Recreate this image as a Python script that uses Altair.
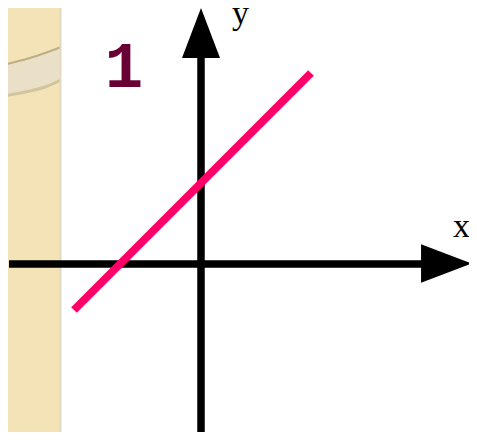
import altair as alt
import pandas as pd

# math coordinates: origin where the two axes cross, y upward, 1 unit ~ 1 px
X_DOMAIN = [-193, 268]
Y_DOMAIN = [-168, 256]

# axes
x_axis_start, x_axis_end = -192, 240
y_axis_start, y_axis_end = -168, 220

# arrow heads (centre positions)
arrow_x = [245.4, 0]
arrow_y = [0.5, 231]

# the straight line y = x + 81
line_x = [-127, 110]
line_y = [-46, 191]

# decorative strip on the left
strip_x = [-209, -141]
ribbon_x = [-209, -186, -171, -156, -140]
ribbon_top = [196, 202, 206, 211, 217]
ribbon_bottom = [166, 170, 173, 177, 184]

# labels
label_text = ["1", "y", "x"]
label_x = [-77, 31, 252]
label_y = [177, 240, 27]

xs = alt.Scale(domain=X_DOMAIN, nice=False, zero=False)
ys = alt.Scale(domain=Y_DOMAIN, nice=False, zero=False)


def X(f="x"):
    return alt.X(f"{f}:Q", scale=xs, axis=None)


def Y(f="y"):
    return alt.Y(f"{f}:Q", scale=ys, axis=None)


strip = alt.Chart(pd.DataFrame({"x": [strip_x[0]], "x2": [strip_x[1]],
                                "y": [Y_DOMAIN[0]], "y2": [Y_DOMAIN[1]]})).mark_rect(
    color="#F3E3B6").encode(x=X(), x2="x2:Q", y=Y(), y2="y2:Q")

strip_edge = alt.Chart(pd.DataFrame({"x": [strip_x[1] + 0.5], "y": [Y_DOMAIN[0]],
                                     "y2": [Y_DOMAIN[1]]})).mark_rule(
    color="#E2D9C2", strokeWidth=2).encode(x=X(), y=Y(), y2="y2:Q")

rib_df = pd.DataFrame({"x": ribbon_x, "y": ribbon_top, "y2": ribbon_bottom})
ribbon = alt.Chart(rib_df).mark_area(color="#E9E0C7", interpolate="monotone").encode(
    x=X(), y=Y(), y2="y2:Q")
ribbon_top_line = alt.Chart(rib_df).mark_line(
    color="#BDAE86", strokeWidth=2, interpolate="monotone").encode(x=X(), y=Y("y"))
ribbon_bot_line = alt.Chart(rib_df).mark_line(
    color="#D2C49E", strokeWidth=3, interpolate="monotone").encode(x=X(), y=Y("y2"))

x_axis = alt.Chart(pd.DataFrame({"x": [x_axis_start], "x2": [x_axis_end], "y": [0]})).mark_rule(
    color="black", strokeWidth=7.5, strokeCap="butt").encode(x=X(), x2="x2:Q", y=Y())
y_axis = alt.Chart(pd.DataFrame({"x": [0], "y": [y_axis_start], "y2": [y_axis_end]})).mark_rule(
    color="black", strokeWidth=7.5, strokeCap="butt").encode(x=X(), y=Y(), y2="y2:Q")

head_x = alt.Chart(pd.DataFrame({"x": [arrow_x[0]], "y": [arrow_y[0]]})).mark_point(
    shape="M1,0L-1,0.76L-1,-0.76Z", filled=True, color="black", opacity=1,
    size=2570, strokeWidth=0).encode(x=X(), y=Y())
head_y = alt.Chart(pd.DataFrame({"x": [arrow_x[1]], "y": [arrow_y[1]]})).mark_point(
    shape="M0,-1L0.76,1L-0.76,1Z", filled=True, color="black", opacity=1,
    size=2500, strokeWidth=0).encode(x=X(), y=Y())

line = alt.Chart(pd.DataFrame({"x": line_x, "y": line_y})).mark_line(
    color="#FF0066", strokeWidth=8, strokeCap="butt").encode(x=X(), y=Y())

lab = pd.DataFrame({"t": label_text, "x": label_x, "y": label_y})
one = alt.Chart(lab.iloc[[0]]).mark_text(
    font="Liberation Mono", fontWeight="bold", fontSize=64, color="#690035",
    align="center", baseline="alphabetic").encode(x=X(), y=Y(), text="t:N")
xy_labels = alt.Chart(lab.iloc[[1, 2]]).mark_text(
    font="Liberation Serif", fontSize=34, color="black",
    align="left", baseline="alphabetic").encode(x=X(), y=Y(), text="t:N")

chart = alt.layer(
    strip, ribbon, ribbon_top_line, ribbon_bot_line, strip_edge,
    x_axis, y_axis, head_x, head_y, line, one, xy_labels
).properties(
    width=461, height=424, padding=0, autosize=alt.AutoSizeParams(type="none"),
    background="white"
).configure_view(strokeWidth=0)

chart.save("out.html", embed_options={"renderer": "svg", "actions": False})
